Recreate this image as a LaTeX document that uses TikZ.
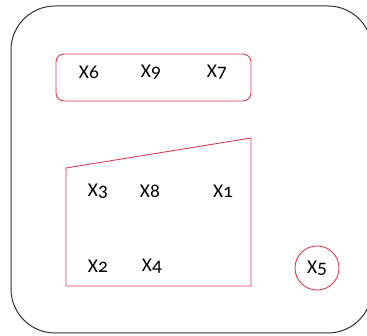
\documentclass[tikz,border=0pt]{standalone}
\usepackage{fontspec}
\setmainfont{Carlito}[Numbers=OldStyle]
\usepackage{xcolor}
\usepackage{tikz}
\usetikzlibrary{
    positioning,
    shapes.geometric
}

\definecolor{setred}{RGB}{222,60,80}
\definecolor{framegray}{RGB}{50,50,50}

\begin{document}
\begin{tikzpicture}[
x=1pt, y=-1pt,
var/.style={
inner sep=0pt,
font=\fontsize{19.5}{22}\selectfont
},
group/.style={
draw=setred,
line width=0.9pt
},
single/.style={
group,
circle,
minimum size=44pt,
inner sep=0pt,
font=\fontsize{19.5}{22}\selectfont
}
]

\useasboundingbox (0,0) rectangle (367,336);
\clip (0,0) rectangle (367,336);

% outer frame
\draw[framegray, line width=1pt, rounded corners=44pt]
(11,6) rectangle (372,333);

% top group
\draw[group, rounded corners=8pt]
(56,54) rectangle (251,101);

\node[var] (x6) at (89,72) {X6};
\node[var] (x9) at (151,72) {X9};
\node[var] (x7) at (217,72) {X7};

% lower group
\draw[group]
(66,168) -- (251,138) -- (251,286) -- (66,286) -- cycle;

\node[var] (x3) at (98,191) {X3};
\node[var] (x8) at (150,191) {X8};
\node[var] (x1) at (223,191) {X1};
\node[var] (x2) at (98,266) {X2};
\node[var] (x4) at (152,266) {X4};

% single
\node[single] (x5) at (317,268) {X5};

\end{tikzpicture}
\end{document}
